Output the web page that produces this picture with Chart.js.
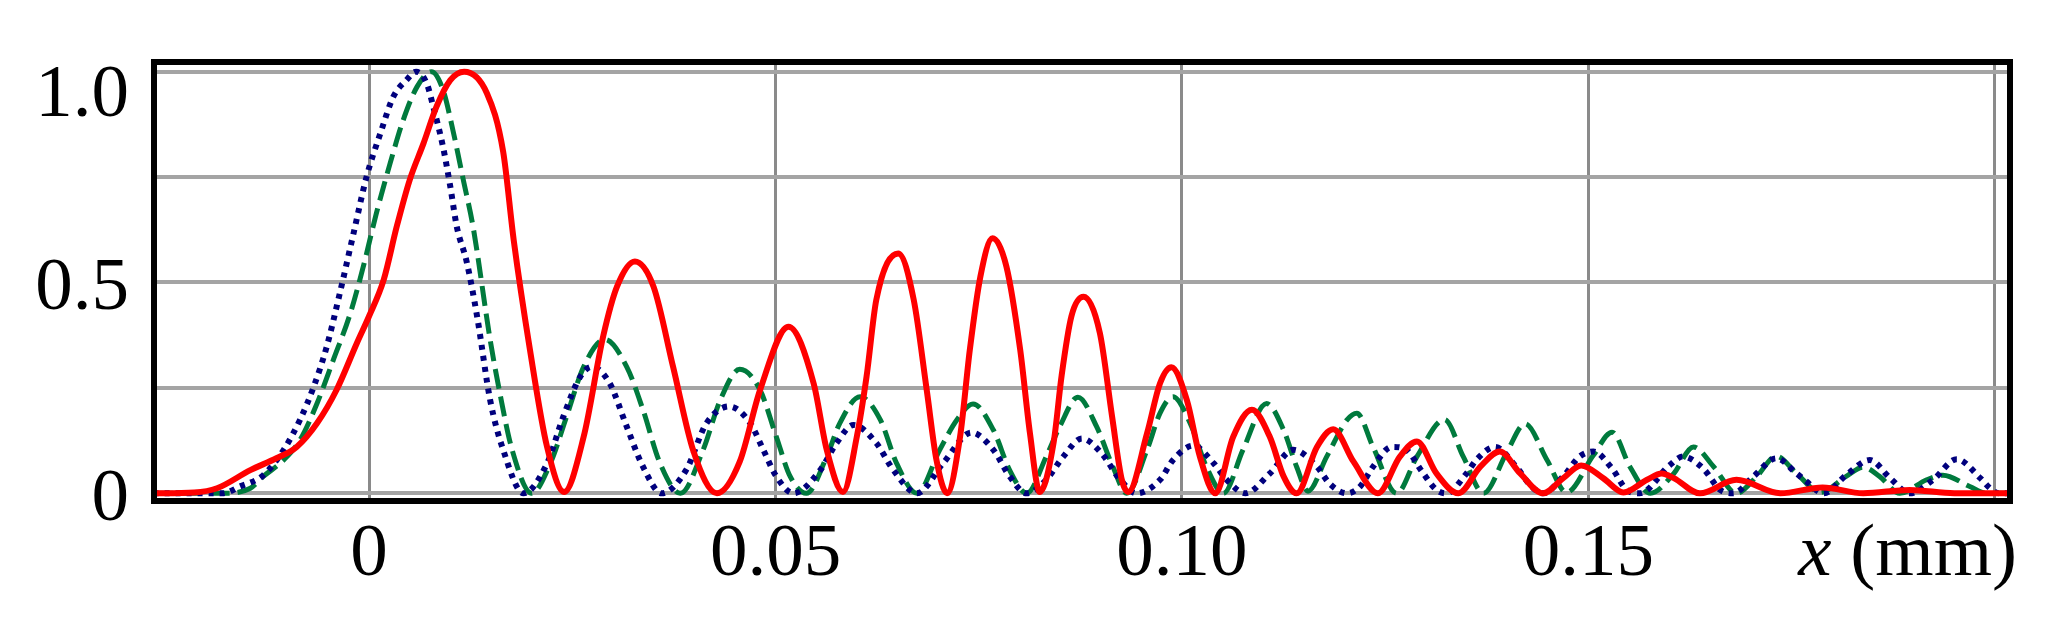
<!DOCTYPE html>
<html>
<head>
<meta charset="utf-8">
<script src="https://cdn.jsdelivr.net/npm/chart.js@4/dist/chart.umd.min.js"></script>
<style>
  html, body { margin: 0; padding: 0; background: #fff; }
  canvas { display: block; }
</style>
</head>
<body>
<canvas id="grafica" width="2047" height="644"></canvas>
<script>
// Curva roja (continua)
const rojoX = [-0.0265, -0.0215, -0.0187, -0.0146, -0.0114, -0.0089, -0.0064, -0.0040, -0.0015, 0.0, 0.0018, 0.0034, 0.0050, 0.0067, 0.0083, 0.0100, 0.0117,
  0.0145, 0.0165, 0.0178, 0.0198, 0.0219, 0.0240, 0.0264, 0.0288, 0.0305, 0.0327, 0.0350, 0.0374, 0.0399, 0.0428,
  0.0456, 0.0481, 0.0516, 0.0547, 0.0563, 0.0583, 0.0600, 0.0612, 0.0624, 0.0651, 0.0670, 0.0686, 0.0698, 0.0711,
  0.0727, 0.0739, 0.0752, 0.0767, 0.0784, 0.0801, 0.0813, 0.0825, 0.0842, 0.0852, 0.0864, 0.0879, 0.0899, 0.0914, 0.0926, 0.0934,
  0.0957, 0.0973, 0.0987, 0.1006, 0.1022, 0.1041, 0.1063, 0.1086, 0.1108, 0.1125, 0.1141, 0.1166, 0.1186, 0.1211, 0.1241,
  0.1268, 0.1289, 0.1313, 0.1340, 0.1367, 0.1391, 0.1416, 0.1444, 0.1469, 0.1491, 0.1518, 0.1543, 0.1572, 0.1590, 0.1605, 0.1637,
  0.1682, 0.1736, 0.1788, 0.1838, 0.1895, 0.1950, 0.2018];
const rojoY = [0, 0.002, 0.012, 0.055, 0.083, 0.11, 0.166, 0.245, 0.356, 0.42, 0.506, 0.632, 0.743, 0.83, 0.917, 0.98, 1.0,
  0.949, 0.81, 0.60, 0.34, 0.11, 0.003, 0.134, 0.372, 0.49, 0.55, 0.49, 0.30, 0.10, 0.0,
  0.075, 0.245, 0.395, 0.26, 0.103, 0.003, 0.134, 0.277, 0.459, 0.569, 0.459, 0.245, 0.079, 0.0,
  0.134, 0.34, 0.514, 0.605, 0.538, 0.34, 0.142, 0.003, 0.119, 0.28, 0.42, 0.466, 0.38, 0.182, 0.032, 0.003,
  0.142, 0.261, 0.299, 0.221, 0.087, 0.0, 0.134, 0.198, 0.134, 0.04, 0.0, 0.11, 0.152, 0.075, 0.0,
  0.087, 0.123, 0.047, 0.0, 0.063, 0.099, 0.047, 0.0, 0.036, 0.066, 0.036, 0.002, 0.032, 0.047, 0.036, 0.0,
  0.032, 0.0, 0.014, 0.0, 0.008, 0.0, 0.0];

// Curva verde (discontinua)
const verdeX = [-0.0265, -0.0180, -0.0146, -0.0130, -0.0105, -0.0085, -0.0064, -0.0044, -0.0023, -0.0007, 0.0009, 0.0026, 0.0042, 0.0059, 0.0077,
  0.0091, 0.0104, 0.0116, 0.0128, 0.0149, 0.0161, 0.0176, 0.0200, 0.0223, 0.0243, 0.0264, 0.0290, 0.0317, 0.0337, 0.0358, 0.0383,
  0.0411, 0.0432, 0.0456, 0.0481, 0.0501, 0.0518, 0.0538, 0.0563, 0.0579, 0.0604, 0.0629, 0.0649, 0.0674,
  0.0702, 0.0723, 0.0743, 0.0768, 0.0788, 0.0809, 0.0833, 0.0850, 0.0872, 0.0895, 0.0915, 0.0932,
  0.0957, 0.0973, 0.0989, 0.1010, 0.1030, 0.1051, 0.1075, 0.1104, 0.1125, 0.1141, 0.1155, 0.1178, 0.1203, 0.1215, 0.1235, 0.1264,
  0.1289, 0.1323, 0.1346, 0.1371, 0.1399, 0.1422, 0.1449, 0.1473, 0.1506, 0.1529, 0.1551, 0.1576, 0.1605, 0.1629, 0.1654, 0.1682,
  0.1707, 0.1731, 0.1756, 0.1785, 0.1817, 0.1838, 0.1858, 0.1883, 0.1916, 0.1936, 0.1969, 0.1990, 0.2018];
const verdeY = [0, 0.0, 0.012, 0.04, 0.079, 0.126, 0.213, 0.316, 0.427, 0.538, 0.664, 0.783, 0.885, 0.964, 1.0,
  0.957, 0.854, 0.743, 0.632, 0.364, 0.237, 0.103, 0.0, 0.071, 0.182, 0.30, 0.365, 0.30, 0.198, 0.071, 0.0,
  0.103, 0.221, 0.294, 0.245, 0.134, 0.04, 0.0, 0.087, 0.166, 0.229, 0.174, 0.071, 0.0,
  0.103, 0.174, 0.212, 0.15, 0.055, 0.0, 0.087, 0.16, 0.228, 0.158, 0.063, 0.0,
  0.103, 0.19, 0.229, 0.166, 0.063, 0.0, 0.103, 0.213, 0.15, 0.063, 0.005, 0.087, 0.174, 0.19, 0.11, 0.0,
  0.087, 0.175, 0.087, 0.0, 0.095, 0.165, 0.079, 0.002, 0.09, 0.145, 0.063, 0.0, 0.047, 0.11, 0.063, 0.0,
  0.04, 0.088, 0.047, 0.002, 0.04, 0.062, 0.04, 0.0, 0.032, 0.043, 0.016, 0.0, 0.0];

// Curva azul marino (punteada)
const azulX = [-0.0265, -0.0180, -0.0159, -0.0130, -0.0105, -0.0085, -0.0068, -0.0052, -0.0036, -0.0019, -0.0003, 0.0014, 0.0030, 0.0046, 0.0058,
  0.0071, 0.0079, 0.0091, 0.0100, 0.0108, 0.0120, 0.0133, 0.0149, 0.0165, 0.0190, 0.0219, 0.0239, 0.0260, 0.0274, 0.0296, 0.0317, 0.0337, 0.0360,
  0.0390, 0.0415, 0.0443, 0.0469, 0.0485, 0.0501, 0.0522, 0.0555, 0.0575, 0.0596, 0.0624, 0.0645, 0.0674,
  0.0706, 0.0741, 0.0768, 0.0788, 0.0809, 0.0833, 0.0854, 0.0877, 0.0901, 0.0924, 0.0944,
  0.0973, 0.0989, 0.1014, 0.1039, 0.1055, 0.1078, 0.1108, 0.1137, 0.1166, 0.1182, 0.1203,
  0.1219, 0.1235, 0.1258, 0.1276, 0.1294, 0.1313, 0.1325, 0.1350, 0.1362, 0.1385, 0.1411, 0.1430, 0.1444,
  0.1469, 0.1489, 0.1506, 0.1529, 0.1547, 0.1563, 0.1600, 0.1616, 0.1641, 0.1662, 0.1678,
  0.1703, 0.1731, 0.1756, 0.1768, 0.1789, 0.1817, 0.1846, 0.1871, 0.1895, 0.1924, 0.1953, 0.1982, 0.1994, 0.2005, 0.2018];
const azulY = [0, 0.0, 0.016, 0.043, 0.103, 0.174, 0.253, 0.348, 0.474, 0.617, 0.751, 0.854, 0.941, 0.98, 1.0,
  0.972, 0.917, 0.822, 0.727, 0.632, 0.55, 0.419, 0.221, 0.103, 0.0, 0.071, 0.182, 0.277, 0.30, 0.261, 0.158, 0.063, 0.0,
  0.055, 0.166, 0.206, 0.166, 0.103, 0.04, 0.0, 0.055, 0.119, 0.162, 0.119, 0.055, 0.0,
  0.071, 0.144, 0.103, 0.04, 0.0, 0.032, 0.087, 0.13, 0.095, 0.032, 0.0,
  0.032, 0.079, 0.113, 0.071, 0.032, 0.0, 0.047, 0.103, 0.063, 0.022, 0.0,
  0.016, 0.063, 0.11, 0.103, 0.055, 0.008, 0.0, 0.047, 0.079, 0.11, 0.063, 0.016, 0.0,
  0.04, 0.087, 0.099, 0.059, 0.008, 0.0, 0.067, 0.087, 0.059, 0.008, 0.0,
  0.04, 0.083, 0.047, 0.028, 0.0, 0.043, 0.079, 0.036, 0.0, 0.032, 0.081, 0.036, 0.012, 0.0, 0.0];

// Marcas de los ejes
const xTicks = [0, 0.05, 0.10, 0.15, 0.20];
const xTickLabels = ['0', '0.05', '0.10', '0.15', ''];
const yTicks = [0, 0.25, 0.5, 0.75, 1.0];
const yTickLabels = ['0', '', '0.5', '', '1.0'];
const xTitleVar = 'x';
const xTitleUnit = ' (mm)';

const FUENTE = '"Liberation Serif", "Times New Roman", serif';

function puntos(xs, ys) {
  return xs.map((x, i) => ({ x: x, y: ys[i] }));
}

// Dibuja el marco negro y las etiquetas de texto
const etiquetasPlugin = {
  id: 'etiquetas',
  afterDraw(chart) {
    const ctx = chart.ctx;
    const area = chart.chartArea;
    const sx = chart.scales.x;
    const sy = chart.scales.y;
    ctx.save();
    ctx.strokeStyle = '#000';
    ctx.lineWidth = 6;
    ctx.strokeRect(area.left, area.top, area.right - area.left, area.bottom - area.top);

    ctx.fillStyle = '#000';
    ctx.font = '75px ' + FUENTE;
    ctx.textBaseline = 'alphabetic';

    // eje y
    ctx.textAlign = 'right';
    yTicks.forEach((v, i) => {
      if (!yTickLabels[i]) return;
      const py = Math.max(sy.getPixelForValue(v) + 27, area.top + 54);
      ctx.fillText(yTickLabels[i], 129, py);
    });

    // eje x
    ctx.textAlign = 'center';
    const base = area.bottom + 74;
    xTicks.forEach((v, i) => {
      if (!xTickLabels[i]) return;
      ctx.fillText(xTickLabels[i], sx.getPixelForValue(v), base);
    });

    // título del eje x: "x (mm)" con x en cursiva
    ctx.textAlign = 'left';
    const wUnit = ctx.measureText(xTitleUnit).width;
    ctx.font = 'italic 75px ' + FUENTE;
    const wVar = ctx.measureText(xTitleVar).width;
    const xStart = 2017 - wUnit - wVar;
    ctx.fillText(xTitleVar, xStart, base);
    ctx.font = '75px ' + FUENTE;
    ctx.fillText(xTitleUnit, xStart + wVar, base);
    ctx.restore();
  }
};

new Chart(document.getElementById('grafica'), {
  type: 'line',
  data: {
    datasets: [
      {
        label: 'rojo',
        data: puntos(rojoX, rojoY),
        borderColor: '#ff0000',
        borderWidth: 6,
        order: 0
      },
      {
        label: 'azul',
        data: puntos(azulX, azulY),
        borderColor: '#00007d',
        borderWidth: 6,
        borderDash: [5, 6],
        order: 1
      },
      {
        label: 'verde',
        data: puntos(verdeX, verdeY),
        borderColor: '#007a3d',
        borderWidth: 5,
        borderDash: [20, 8],
        order: 2
      }
    ]
  },
  options: {
    responsive: false,
    animation: false,
    devicePixelRatio: 1,
    layout: { padding: { left: 154, top: 62, right: 37, bottom: 143 } },
    elements: {
      point: { radius: 0 },
      line: { cubicInterpolationMode: 'monotone', fill: false }
    },
    plugins: {
      legend: { display: false },
      tooltip: { enabled: false }
    },
    scales: {
      x: {
        type: 'linear',
        min: -0.02645,
        max: 0.20185,
        afterBuildTicks: s => { s.ticks = xTicks.map(v => ({ value: v })); },
        ticks: { display: false },
        border: { display: false },
        grid: { color: '#8a8a8a', lineWidth: 3, drawTicks: false }
      },
      y: {
        type: 'linear',
        min: -0.0183,
        max: 1.023,
        afterBuildTicks: s => { s.ticks = yTicks.map(v => ({ value: v })); },
        ticks: { display: false },
        border: { display: false },
        grid: { color: '#a4a4a4', lineWidth: 4, drawTicks: false }
      }
    }
  },
  plugins: [etiquetasPlugin]
});
</script>
</body>
</html>
